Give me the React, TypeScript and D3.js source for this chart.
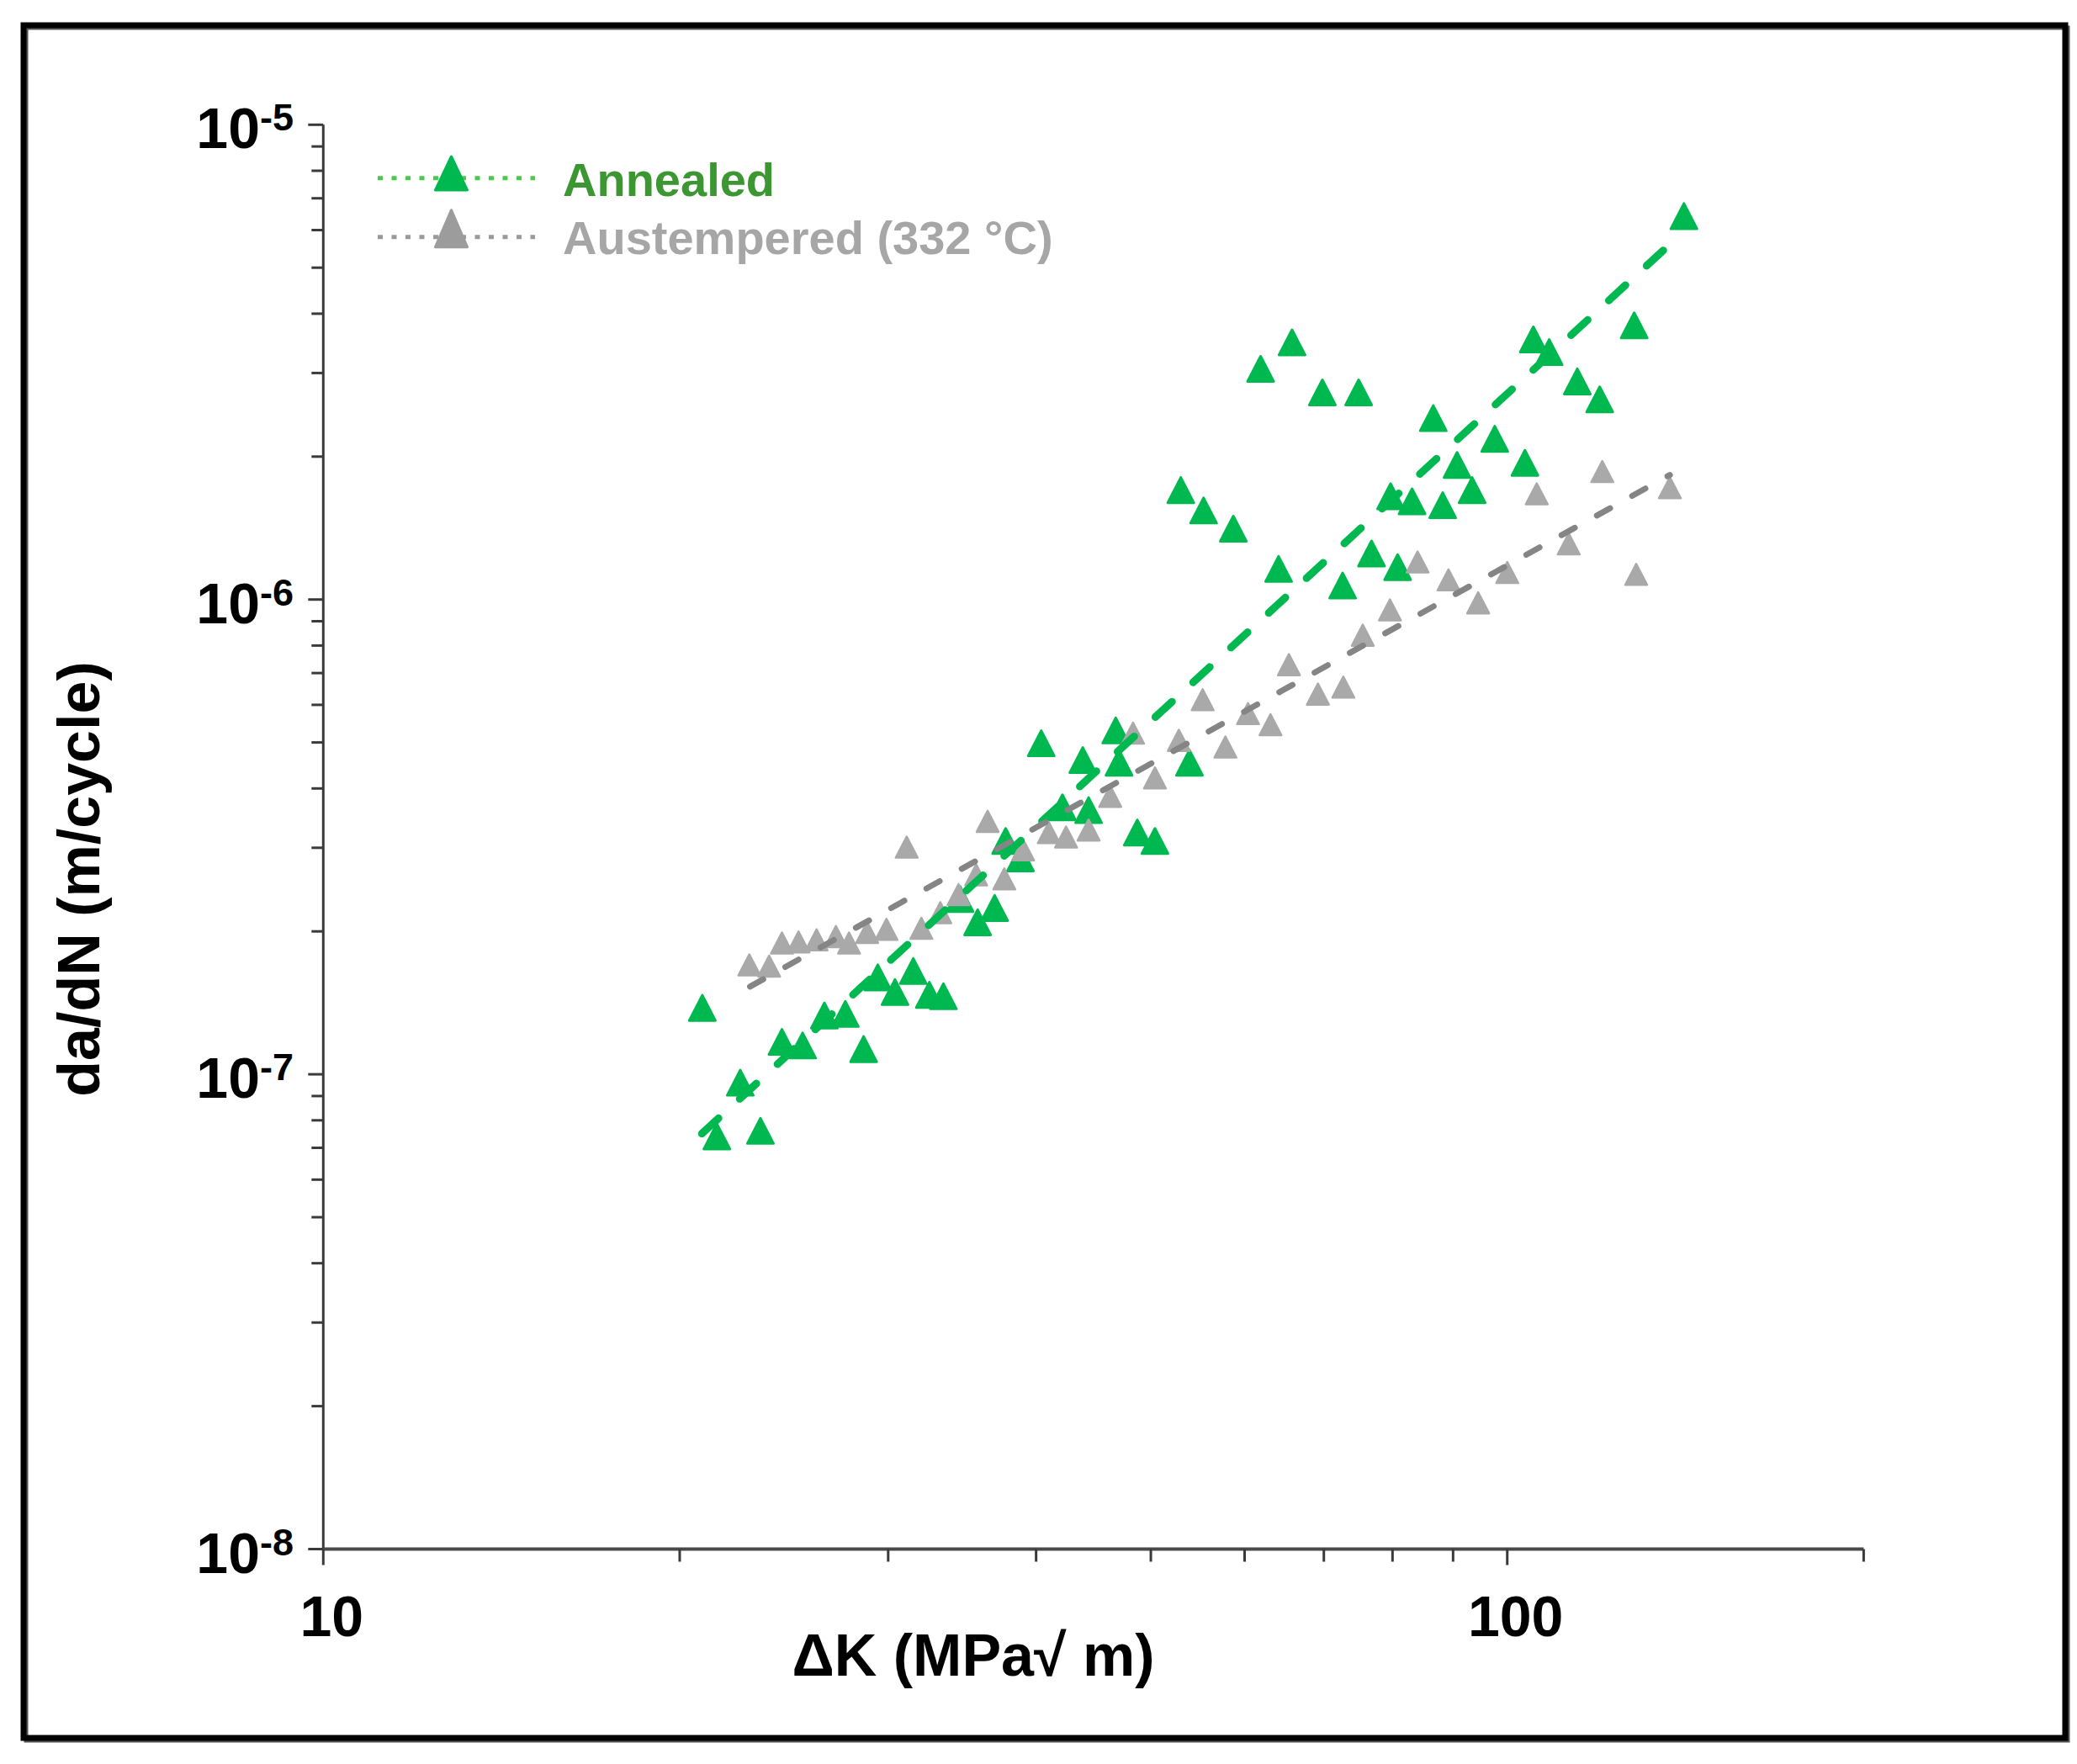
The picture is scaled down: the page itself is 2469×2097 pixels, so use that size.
import * as d3 from 'd3';

// Annealed: ΔK (MPa√m) and da/dN (m/cycle)
const annealedK = [
  20.9, 21.5, 22.5, 23.4, 24.4, 25.4, 26.5, 27.6, 28.6, 29.4, 30.4, 31.5, 32.5, 33.4,
  34.5, 35.7, 36.9, 37.7, 38.8, 40.4, 42.1, 43.8, 44.3, 46.7, 47.0, 48.7, 50.4, 53.0,
  53.9, 55.4, 58.7, 61.9, 64.1, 65.8, 69.8, 72.6, 74.9, 76.8, 79.7, 80.8, 83.1, 86.6,
  88.2, 90.7, 93.4, 97.6, 103.5, 105.2, 108.5, 114.6, 119.7, 128.0, 141.0,
];
const annealedRate = [
  1.38e-7, 7.4e-8, 9.6e-8, 7.6e-8, 1.17e-7, 1.15e-7, 1.33e-7, 1.34e-7, 1.13e-7, 1.6e-7, 1.49e-7, 1.65e-7, 1.47e-7, 1.46e-7,
  2.34e-7, 2.09e-7, 2.24e-7, 3.1e-7, 2.85e-7, 4.98e-7, 3.65e-7, 4.59e-7, 3.6e-7, 5.3e-7, 4.53e-7, 3.23e-7, 3.1e-7, 1.7e-6,
  4.53e-7, 1.54e-6, 1.41e-6, 3.06e-6, 1.16e-6, 3.48e-6, 2.73e-6, 1.07e-6, 2.73e-6, 1.25e-6, 1.65e-6, 1.17e-6, 1.61e-6, 2.41e-6,
  1.58e-6, 1.92e-6, 1.7e-6, 2.18e-6, 1.94e-6, 3.53e-6, 3.32e-6, 2.88e-6, 2.64e-6, 3.78e-6, 6.42e-6,
];

// Austempered (332 °C)
const austemperedK = [
  22.9, 23.8, 24.4, 25.2, 26.1, 27.1, 27.8, 28.8, 29.9, 31.1, 32.0, 33.2, 34.4, 35.6,
  36.4, 37.6, 39.0, 41.0, 42.4, 44.3, 46.2, 48.3, 50.4, 52.8, 55.3, 57.8, 60.4, 63.1,
  65.4, 69.2, 72.7, 75.5, 79.6, 84.0, 89.2, 94.5, 100.0, 105.9, 112.7, 120.3, 128.5, 137.2,
];
const austemperedRate = [
  1.7e-7, 1.69e-7, 1.89e-7, 1.9e-7, 1.92e-7, 1.95e-7, 1.89e-7, 1.99e-7, 2.02e-7, 3.01e-7, 2.03e-7, 2.19e-7, 2.39e-7, 2.63e-7,
  3.41e-7, 2.58e-7, 2.97e-7, 3.23e-7, 3.16e-7, 3.27e-7, 3.85e-7, 5.23e-7, 4.21e-7, 5.05e-7, 6.15e-7, 4.89e-7, 5.75e-7, 5.45e-7,
  7.29e-7, 6.32e-7, 6.54e-7, 8.41e-7, 9.51e-7, 1.2e-6, 1.1e-6, 9.84e-7, 1.14e-6, 1.67e-6, 1.31e-6, 1.86e-6, 1.13e-6, 1.72e-6,
];

// power-law trend lines, end points
const annealedFitK = [20.88, 141.0];
const annealedFitRate = [7.5e-8, 5.96e-6];
const austemperedFitK = [22.93, 137.2];
const austemperedFitRate = [1.53e-7, 1.83e-6];

const xMajorTicks = [10, 100];
const yExponents = [-5, -6, -7, -8];

const W = 2469;
const H = 2097;
const FONT = 'Liberation Sans, Arial, Helvetica, sans-serif';
const GREEN = '#00b850';
const GREY = '#a9a9a9';

const x = d3.scaleLog().domain([10, 200]).range([384.3, 2215.4]);
const y = d3.scaleLog().domain([1e-8, 1e-5]).range([1841.5, 148.3]);

// triangle marker centred on its bounding box
const tri = (cx: number, cy: number, w: number, h: number) =>
  `M${cx},${cy - h / 2}L${cx + w / 2},${cy + h / 2}L${cx - w / 2},${cy + h / 2}Z`;

export default function App() {
  const xMinor = d3.range(2, 10).map(d => d * 10).concat([200]);
  const yMinor: number[] = [];
  [-8, -7, -6].forEach(e => d3.range(2, 10).forEach(m => yMinor.push(m * Math.pow(10, e))));

  const annealedPath = d3.line<number>()
    .x(d => x(annealedFitK[d]))
    .y(d => y(annealedFitRate[d]))([0, 1]) || '';
  const austemperedPath = d3.line<number>()
    .x(d => x(austemperedFitK[d]))
    .y(d => y(austemperedFitRate[d]))([0, 1]) || '';

  return (
    <svg
      width={W}
      height={H}
      viewBox={`0 0 ${W} ${H}`}
      style={{ position: 'absolute', left: 0, top: 0, background: '#fff' }}
      fontFamily={FONT}
      fontWeight="bold"
    >
      {/* outer frame */}
      <rect x={31} y={33} width={2427} height={2036} fill="none" stroke="#555" strokeWidth={5} />
      <rect x={28} y={30} width={2427} height={2036} fill="none" stroke="#000" strokeWidth={7} />

      {/* axes */}
      <line x1={x(10)} x2={x(10)} y1={y(1e-5)} y2={y(1e-8)} stroke="#3a3a3a" strokeWidth={3} />
      <line x1={x(10)} x2={x(200)} y1={y(1e-8)} y2={y(1e-8)} stroke="#4a4a4a" strokeWidth={4} />

      {yExponents.map(e => (
        <line key={'ym' + e} x1={x(10) - 18} x2={x(10)} y1={y(Math.pow(10, e))} y2={y(Math.pow(10, e))}
          stroke="#3a3a3a" strokeWidth={3} />
      ))}
      {yMinor.map((v, i) => (
        <line key={'yn' + i} x1={x(10) - 14} x2={x(10)} y1={y(v)} y2={y(v)} stroke="#3a3a3a" strokeWidth={3} />
      ))}
      {xMajorTicks.map(v => (
        <line key={'xm' + v} x1={x(v)} x2={x(v)} y1={y(1e-8)} y2={y(1e-8) + 19} stroke="#3a3a3a" strokeWidth={3} />
      ))}
      {xMinor.map(v => (
        <line key={'xn' + v} x1={x(v)} x2={x(v)} y1={y(1e-8)} y2={y(1e-8) + 15} stroke="#3a3a3a" strokeWidth={3} />
      ))}

      {/* tick labels */}
      {yExponents.map(e => (
        <text key={'yl' + e} x={349} y={y(Math.pow(10, e)) + 28} textAnchor="end" fontSize={68} fill="#000">
          <tspan>10</tspan>
          <tspan dy={-21} fontSize={45}>{String(e)}</tspan>
        </text>
      ))}
      {xMajorTicks.map(v => (
        <text key={'xl' + v} x={x(v) + 10} y={1945} textAnchor="middle" fontSize={68} fill="#000">{v}</text>
      ))}

      {/* axis titles */}
      <text x={1157} y={1992} textAnchor="middle" fontSize={70} fill="#000">ΔK (MPa√ m)</text>
      <text transform={`translate(118,${1045}) rotate(-90)`} textAnchor="middle" fontSize={70} fill="#000">
        da/dN (m/cycle)
      </text>

      {/* data */}
      <g>
        {annealedK.map((k, i) => (
          <path key={'a' + i} d={tri(x(k), y(annealedRate[i]), 31, 30)} fill={GREEN} stroke={GREEN}
            strokeWidth={3} strokeLinejoin="round" />
        ))}
      </g>
      <g>
        {austemperedK.map((k, i) => (
          <path key={'b' + i} d={tri(x(k), y(austemperedRate[i]), 26, 25)} fill={GREY} stroke={GREY}
            strokeWidth={2.5} strokeLinejoin="round" />
        ))}
      </g>
      <path d={annealedPath} fill="none" stroke={GREEN} strokeWidth={9} strokeDasharray="27 34"
        strokeLinecap="round" />
      <path d={austemperedPath} fill="none" stroke="#858585" strokeWidth={7} strokeDasharray="18 30"
        strokeLinecap="round" />

      {/* legend */}
      <line x1={449} x2={636} y1={211.7} y2={211.7} stroke="#4cc94c" strokeWidth={5} strokeDasharray="6 10.5" />
      <path d={tri(536.5, 206, 38, 40)} fill={GREEN} stroke={GREEN} strokeWidth={3} strokeLinejoin="round" />
      <text x={669} y={233} fontSize={56} fill="#3c9632">Annealed</text>

      <line x1={449} x2={636} y1={281.7} y2={281.7} stroke="#9a9a9a" strokeWidth={5} strokeDasharray="6 10.5" />
      <path d={tri(536.5, 271.7, 38, 44)} fill="#9c9c9c" stroke="#9c9c9c" strokeWidth={3} strokeLinejoin="round" />
      <text x={669} y={301.7} fontSize={56} fill="#a6a6a6">Austempered (332 °C)</text>
    </svg>
  );
}
